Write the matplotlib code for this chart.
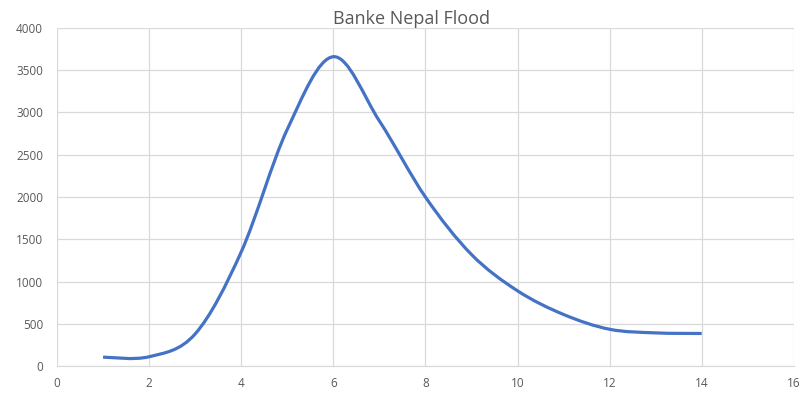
import numpy as np
import matplotlib.pyplot as plt
from matplotlib.path import Path
from matplotlib.patches import PathPatch

# Flood hydrograph readings
days = [1, 2, 3, 4, 5, 6, 7, 8, 9, 10, 11, 12, 13, 14]
discharge = [105, 110, 380, 1350, 2800, 3660, 2900, 2000, 1320, 890, 610, 435, 392, 385]

x_ticks = [0, 2, 4, 6, 8, 10, 12, 14, 16]
y_ticks = [0, 500, 1000, 1500, 2000, 2500, 3000, 3500, 4000]

LINE_COLOR = '#4472C4'
TEXT_COLOR = '#595959'
GRID_COLOR = '#D9D9D9'


def smooth_path(xs, ys):
    # cubic Bezier segments through every point (Catmull-Rom style handles)
    pts = np.column_stack([xs, ys]).astype(float)
    n = len(pts)
    verts = [pts[0]]
    codes = [Path.MOVETO]
    for i in range(n - 1):
        p0 = pts[i - 1] if i > 0 else pts[i]
        p1 = pts[i]
        p2 = pts[i + 1]
        p3 = pts[i + 2] if i + 2 < n else pts[i + 1]
        c1 = p1 + (p2 - p0) / 6.0
        c2 = p2 - (p3 - p1) / 6.0
        verts += [c1, c2, p2]
        codes += [Path.CURVE4] * 3
    return Path(verts, codes)


plt.rcParams['font.family'] = ['Open Sans', 'DejaVu Sans']

fig = plt.figure(figsize=(8.01, 3.94), dpi=100)
ax = fig.add_axes([0.0712, 0.071, 0.9198, 0.858])

patch = PathPatch(smooth_path(days, discharge), facecolor='none',
                  edgecolor=LINE_COLOR, lw=2.3, capstyle='butt', zorder=3)
ax.add_patch(patch)

ax.set_xlim(0, 16)
ax.set_ylim(0, 4000)
ax.set_xticks(x_ticks)
ax.set_yticks(y_ticks)
ax.grid(True, color=GRID_COLOR, lw=0.9)
ax.set_axisbelow(True)
ax.tick_params(length=0, labelsize=8.5, colors=TEXT_COLOR)
ax.tick_params(axis='y', pad=10)
ax.tick_params(axis='x', pad=8)
for side in ['top', 'right', 'left']:
    ax.spines[side].set_visible(False)
ax.spines['bottom'].set_color(GRID_COLOR)

fig.text(0.514, 0.952, 'Banke Nepal Flood', ha='center', va='center',
         fontsize=13, color=TEXT_COLOR)

fig.savefig('out.png', dpi=100)
